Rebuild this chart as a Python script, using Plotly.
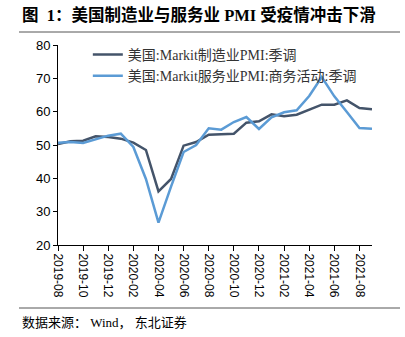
import plotly.graph_objects as go

months = ["2019-08","2019-09","2019-10","2019-11","2019-12","2020-01","2020-02","2020-03",
          "2020-04","2020-05","2020-06","2020-07","2020-08","2020-09","2020-10","2020-11",
          "2020-12","2021-01","2021-02","2021-03","2021-04","2021-05","2021-06","2021-07",
          "2021-08","2021-09"]
manufacturing = [50.3,51.1,51.3,52.6,52.4,51.9,50.7,48.5,36.1,39.8,49.8,50.9,53.1,53.2,53.4,56.7,
                 57.1,59.2,58.6,59.1,60.5,62.1,62.1,63.4,61.1,60.7]
services = [50.7,50.9,50.6,51.6,52.8,53.4,49.4,39.8,26.7,37.5,47.9,50.0,55.0,54.6,56.9,58.4,
            54.8,58.3,59.8,60.4,64.7,70.4,64.6,59.9,55.1,54.9]
tick_labels = months[::2]
name_m = "美国:Markit制造业PMI:季调"
name_s = "美国:Markit服务业PMI:商务活动:季调"
title_text = "<b>图  1：美国制造业与服务业 PMI 受疫情冲击下滑</b>"
source_text = "数据来源： Wind， 东北证券"

serif = "Liberation Serif, Noto Sans CJK SC"
sans = "Liberation Sans, Arial, sans-serif"

fig = go.Figure()
fig.add_trace(go.Scatter(x=months, y=manufacturing, mode="lines", name=name_m,
                         line=dict(color="#44546A", width=2.5)))
fig.add_trace(go.Scatter(x=months, y=services, mode="lines", name=name_s,
                         line=dict(color="#5B9BD5", width=2.5)))

W, H = 405, 337
L, R, T, B = 58, 33, 45, 92
fig.update_layout(
    width=W, height=H,
    margin=dict(l=L, r=R, t=T, b=B),
    paper_bgcolor="white", plot_bgcolor="white",
    showlegend=True,
    legend=dict(x=0.095, y=1.03, xanchor="left", yanchor="top",
                font=dict(family=serif, size=14, color="#333333"),
                bgcolor="rgba(0,0,0,0)", tracegroupgap=0, itemwidth=30),
    xaxis=dict(type="category", range=[0, len(months) - 1],
               tickmode="array", tickvals=tick_labels, ticktext=tick_labels,
               tickangle=90, ticks="outside", ticklen=5, tickcolor="black",
               showline=True, linecolor="black", linewidth=1,
               showgrid=False, zeroline=False,
               tickfont=dict(family=sans, size=12, color="black")),
    yaxis=dict(range=[20, 80], dtick=10, ticks="outside", ticklen=4, tickcolor="black",
               showline=True, linecolor="black", linewidth=1,
               showgrid=False, zeroline=False,
               tickfont=dict(family=sans, size=13, color="black")),
    annotations=[
        dict(text=title_text, xref="paper", yref="paper",
             x=(20 - L) / (W - L - R), y=1 + (T - 15) / (H - T - B),
             xanchor="left", yanchor="middle", showarrow=False,
             font=dict(family=serif, size=16.5, color="black")),
        dict(text=source_text, xref="paper", yref="paper",
             x=(20 - L) / (W - L - R), y=-(322 - (H - B)) / (H - T - B),
             xanchor="left", yanchor="middle", showarrow=False,
             font=dict(family=serif, size=13, color="black")),
    ],
    shapes=[
        dict(type="line", xref="paper", yref="paper",
             x0=(19 - L) / (W - L - R), x1=(400 - L) / (W - L - R),
             y0=1 + (T - 32) / (H - T - B), y1=1 + (T - 32) / (H - T - B),
             line=dict(color="#555555", width=1)),
        dict(type="line", xref="paper", yref="paper",
             x0=(19 - L) / (W - L - R), x1=(400 - L) / (W - L - R),
             y0=-(308 - (H - B)) / (H - T - B), y1=-(308 - (H - B)) / (H - T - B),
             line=dict(color="#555555", width=1)),
    ],
)

fig.write_html("out.html")
